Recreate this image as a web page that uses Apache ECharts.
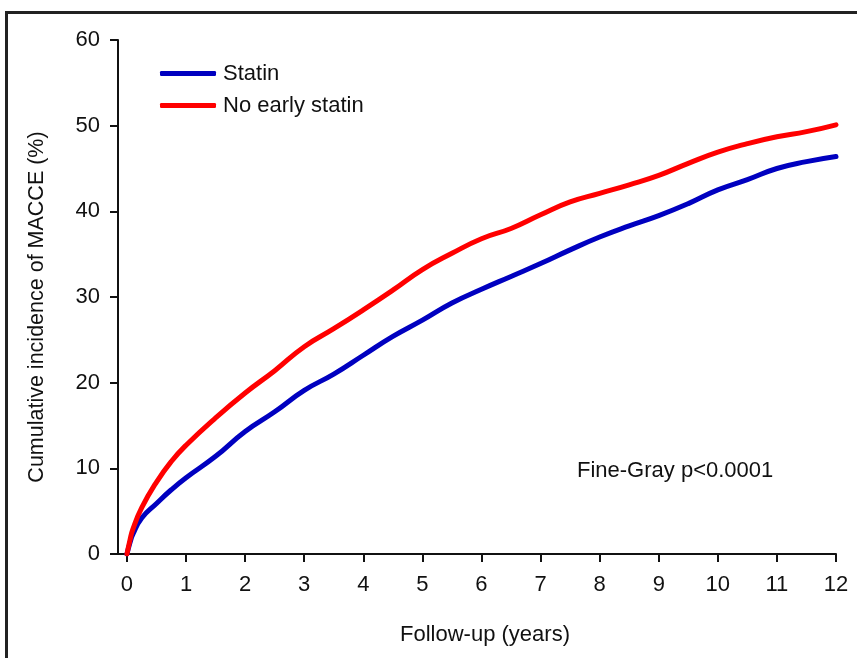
<!DOCTYPE html>
<html>
<head>
<meta charset="utf-8">
<script src="https://cdn.jsdelivr.net/npm/echarts@6/dist/echarts.min.js"></script>
<style>
  html, body { margin: 0; padding: 0; background: #fff; }
  #main { width: 857px; height: 658px; }
</style>
</head>
<body>
<div id="main"></div>
<script>
// follow-up time (years)
var years = [0, 0.05, 0.1, 0.25, 0.5, 0.75, 1, 1.5, 2, 2.5, 3, 3.5, 4, 4.5, 5, 5.5, 6,
    6.5, 7, 7.5, 8, 8.5, 9, 9.5, 10, 10.5, 11, 11.5, 12];
// cumulative incidence of MACCE (%)
var statin = [0, 1.3, 2.3, 4.2, 5.9, 7.5, 8.9, 11.4, 14.3, 16.6, 19.1, 21.0, 23.2, 25.4, 27.3, 29.3, 30.9,
    32.4, 33.9, 35.5, 37.0, 38.3, 39.5, 40.9, 42.5, 43.7, 45.0, 45.8, 46.4];
var noEarlyStatin = [0, 1.6, 2.9, 5.4, 8.4, 10.8, 12.7, 15.9, 18.8, 21.4, 24.2, 26.3, 28.5, 30.8, 33.2, 35.1, 36.8,
    38.0, 39.6, 41.1, 42.1, 43.1, 44.2, 45.6, 46.9, 47.9, 48.7, 49.3, 50.1];
var xTicks = [0, 1, 2, 3, 4, 5, 6, 7, 8, 9, 10, 11, 12];
var seriesNames = ['Statin', 'No early statin'];

function toPairs(xs, ys) {
    return xs.map(function (x, i) { return [x, ys[i]]; });
}

var chart = echarts.init(document.getElementById('main'));
var font = 'Liberation Sans, Arial, sans-serif';

chart.setOption({
    animation: false,
    backgroundColor: '#fff',
    grid: { left: 118, right: 21, top: 40, bottom: 104, containLabel: false, outerBoundsMode: 'none' },
    legend: {
        orient: 'vertical',
        left: 155,
        top: 56,
        data: seriesNames,
        icon: 'roundRect',
        itemWidth: 56,
        itemHeight: 5,
        itemGap: 7,
        textStyle: { fontFamily: font, fontSize: 22, color: '#111', lineHeight: 25, padding: [0, 0, 0, 2] }
    },
    xAxis: {
        type: 'value',
        min: -0.152,
        max: 12,
        name: 'Follow-up (years)',
        nameLocation: 'middle',
        nameGap: 70,
        nameTextStyle: { fontFamily: font, fontSize: 22, color: '#111', padding: [0, 0, 0, 16] },
        axisLine: { show: true, lineStyle: { color: '#111', width: 2 } },
        axisTick: { show: true, length: 8, lineStyle: { color: '#111', width: 2 }, customValues: xTicks },
        axisLabel: { fontFamily: font, fontSize: 22, color: '#111', margin: 20, customValues: xTicks },
        splitLine: { show: false }
    },
    yAxis: {
        type: 'value',
        min: 0,
        max: 60,
        interval: 10,
        name: 'Cumulative incidence of MACCE (%)',
        nameLocation: 'middle',
        nameGap: 70,
        nameTextStyle: { fontFamily: font, fontSize: 21.5, color: '#111', padding: [0, 20, 0, 0] },
        axisLine: { show: true, onZero: false, lineStyle: { color: '#111', width: 2 } },
        axisTick: { show: true, length: 8, lineStyle: { color: '#111', width: 2 } },
        axisLabel: { fontFamily: font, fontSize: 22, color: '#111', margin: 18 },
        splitLine: { show: false }
    },
    series: [
        {
            name: seriesNames[0],
            type: 'line',
            data: toPairs(years, statin),
            showSymbol: false,
            smooth: 0.5,
            color: '#0000C0',
            lineStyle: { color: '#0000C0', width: 5, cap: 'round' }
        },
        {
            name: seriesNames[1],
            type: 'line',
            data: toPairs(years, noEarlyStatin),
            showSymbol: false,
            smooth: 0.5,
            color: '#FF0000',
            lineStyle: { color: '#FF0000', width: 5, cap: 'round' }
        }
    ],
    graphic: [
        {
            type: 'rect',
            shape: { x: 6.5, y: 12.5, width: 900, height: 700 },
            style: { fill: 'none', stroke: '#222', lineWidth: 3 },
            silent: true
        },
        {
            type: 'text',
            left: 577,
            top: 460,
            style: { text: 'Fine-Gray p<0.0001', fontFamily: font, fontSize: 22, fill: '#111' }
        }
    ]
});
</script>
</body>
</html>
